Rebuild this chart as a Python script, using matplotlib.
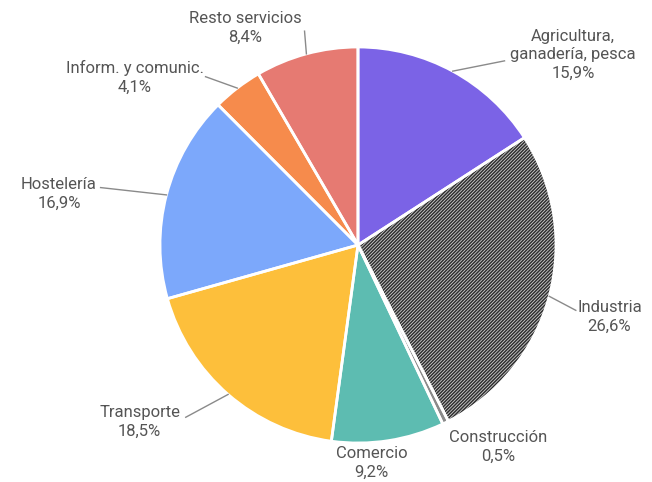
import matplotlib
matplotlib.use("Agg")
import matplotlib.pyplot as plt
import numpy as np

categories = ["Agricultura,\nganadería, pesca", "Industria", "Construcción", "Comercio",
              "Transporte", "Hostelería", "Inform. y comunic.", "Resto servicios"]
values = [15.9, 26.6, 0.5, 9.2, 18.5, 16.9, 4.1, 8.4]
colors = ["#7b63e6", "#d2d2d2", "#8a8a8a", "#5dbcb1", "#fdbf3b", "#7ca8fb", "#f68b4c", "#e67a72"]
pct_labels = ["15,9%", "26,6%", "0,5%", "9,2%", "18,5%", "16,9%", "4,1%", "8,4%"]

# label text positions (data coords) and leader line ends
label_pos = [(1.086, 0.96), (1.27, -0.364), (0.707, -1.02), (0.07, -1.10),
             (-1.103, -0.894), (-1.51, 0.258), (-1.126, 0.848), (-0.57, 1.098)]
leader_end = [(0.74, 0.93), (1.10, -0.33), None, None,
              (-0.87, -0.87), (-1.30, 0.29), (-0.77, 0.85), (-0.27, 1.08)]

plt.rcParams["hatch.linewidth"] = 1.1

fig = plt.figure(figsize=(6.52, 4.82), dpi=100)
ax = fig.add_axes([0, 0, 1, 1])
cx, cy, s = 358, 245, 198

wedges, _ = ax.pie(values, colors=colors, startangle=90, counterclock=False,
                   radius=1, wedgeprops=dict(linewidth=0))
wedges[1].set_hatch("//////////")
wedges[1].set_edgecolor("#2e2e2e")
wedges[1].set_linewidth(0)

# white separators
ax.pie(values, colors=["none"] * len(values), startangle=90, counterclock=False,
       radius=1, wedgeprops=dict(linewidth=2, edgecolor="white", facecolor="none"))

for w, cat, pct, pos, le in zip(wedges, categories, pct_labels, label_pos, leader_end):
    ang = np.deg2rad((w.theta1 + w.theta2) / 2)
    ex, ey = np.cos(ang), np.sin(ang)
    if le is not None:
        ax.plot([ex, le[0]], [ey, le[1]], color="#8a8a8a", lw=1)
    ax.text(pos[0], pos[1], cat + "\n" + pct, ha="center", va="center",
            fontsize=12, color="#555555", family="Roboto", linespacing=1.3)

ax.set_xlim((0 - cx) / s, (652 - cx) / s)
ax.set_ylim((cy - 482) / s, cy / s)
ax.set_aspect("equal", adjustable="datalim")
ax.axis("off")

fig.savefig("out.png", dpi=100)
